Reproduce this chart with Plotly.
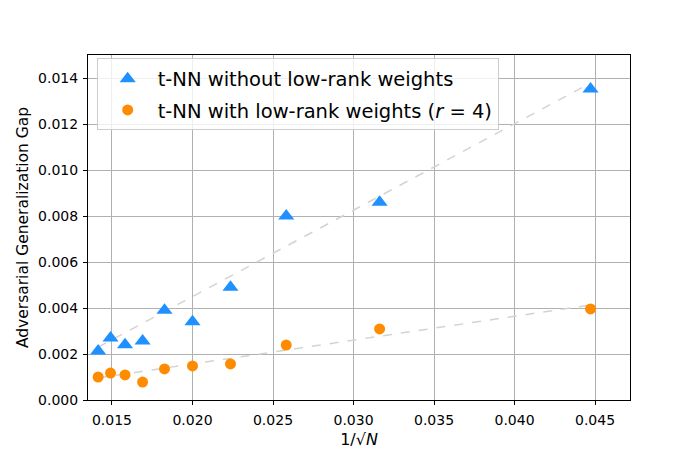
import plotly.graph_objects as go

# x = 1/sqrt(N)
inv_sqrt_n = [0.01414, 0.01491, 0.01581, 0.01690, 0.01826, 0.02000, 0.02236, 0.02582, 0.03162, 0.04472]
gap_full = [0.00213, 0.00270, 0.00240, 0.00257, 0.00390, 0.00340, 0.00490, 0.00800, 0.00860, 0.01352]
gap_lowrank = [0.00100, 0.00117, 0.00109, 0.00078, 0.00135, 0.00148, 0.00157, 0.00239, 0.00309, 0.00396]

# dashed trend lines (end points)
fit_x = [0.01414, 0.04472]
fit_full = [0.00230, 0.01378]
fit_lowrank = [0.00096, 0.00413]

font = "DejaVu Sans"

fig = go.Figure()
for fy in (fit_full, fit_lowrank):
    fig.add_trace(go.Scatter(x=fit_x, y=fy, mode="lines", showlegend=False,
                             line=dict(color="#d3d3d3", width=1.5, dash="dash")))

fig.add_trace(go.Scatter(x=inv_sqrt_n, y=gap_full, mode="markers",
                         name="t-NN without low-rank weights", legendgroup="a",
                         marker=dict(symbol="triangle-up", size=14, color="#1e90ff")))
fig.add_trace(go.Scatter(x=inv_sqrt_n, y=gap_lowrank, mode="markers",
                         name="t-NN with low-rank weights (<i>r</i> = 4)", legendgroup="b",
                         marker=dict(symbol="circle", size=11, color="#ff8c00")))

axis_common = dict(showgrid=True, gridcolor="#b0b0b0", gridwidth=1,
                   showline=True, linecolor="black", linewidth=1, mirror=True,
                   ticks="outside", ticklen=4, tickcolor="black", zeroline=False,
                   automargin=False,
                   tickfont=dict(family=font, size=14, color="black"))

fig.update_xaxes(range=[0.01351, 0.04717], tickvals=[0.015, 0.02, 0.025, 0.03, 0.035, 0.04, 0.045],
                 tickformat=".3f", ticklabelstandoff=3,
                 title=dict(text="1/√<i>N</i>", font=dict(family=font, size=16, color="black"),
                            standoff=7),
                 **axis_common)
fig.update_yaxes(range=[0, 0.015], tickvals=[0, 0.002, 0.004, 0.006, 0.008, 0.01, 0.012, 0.014],
                 tickformat=".3f", ticklabelstandoff=2,
                 title=dict(text="Adversarial Generalization Gap", font=dict(family=font, size=15.5, color="black"),
                            standoff=5),
                 **axis_common)

# the page body adds ~8px around the figure, so margins are shifted to compensate
fig.update_layout(
    width=700, height=450,
    margin=dict(l=80, r=78, t=47, b=58),
    plot_bgcolor="white", paper_bgcolor="white",
    font=dict(family=font, color="black"),
    legend=dict(x=0.016, y=0.99, xanchor="left", yanchor="top",
                bgcolor="rgba(255,255,255,0.8)", bordercolor="#cccccc", borderwidth=1,
                font=dict(family=font, size=19.5, color="black"), itemwidth=50,
                tracegroupgap=3),
)

fig.write_html("out.html")
